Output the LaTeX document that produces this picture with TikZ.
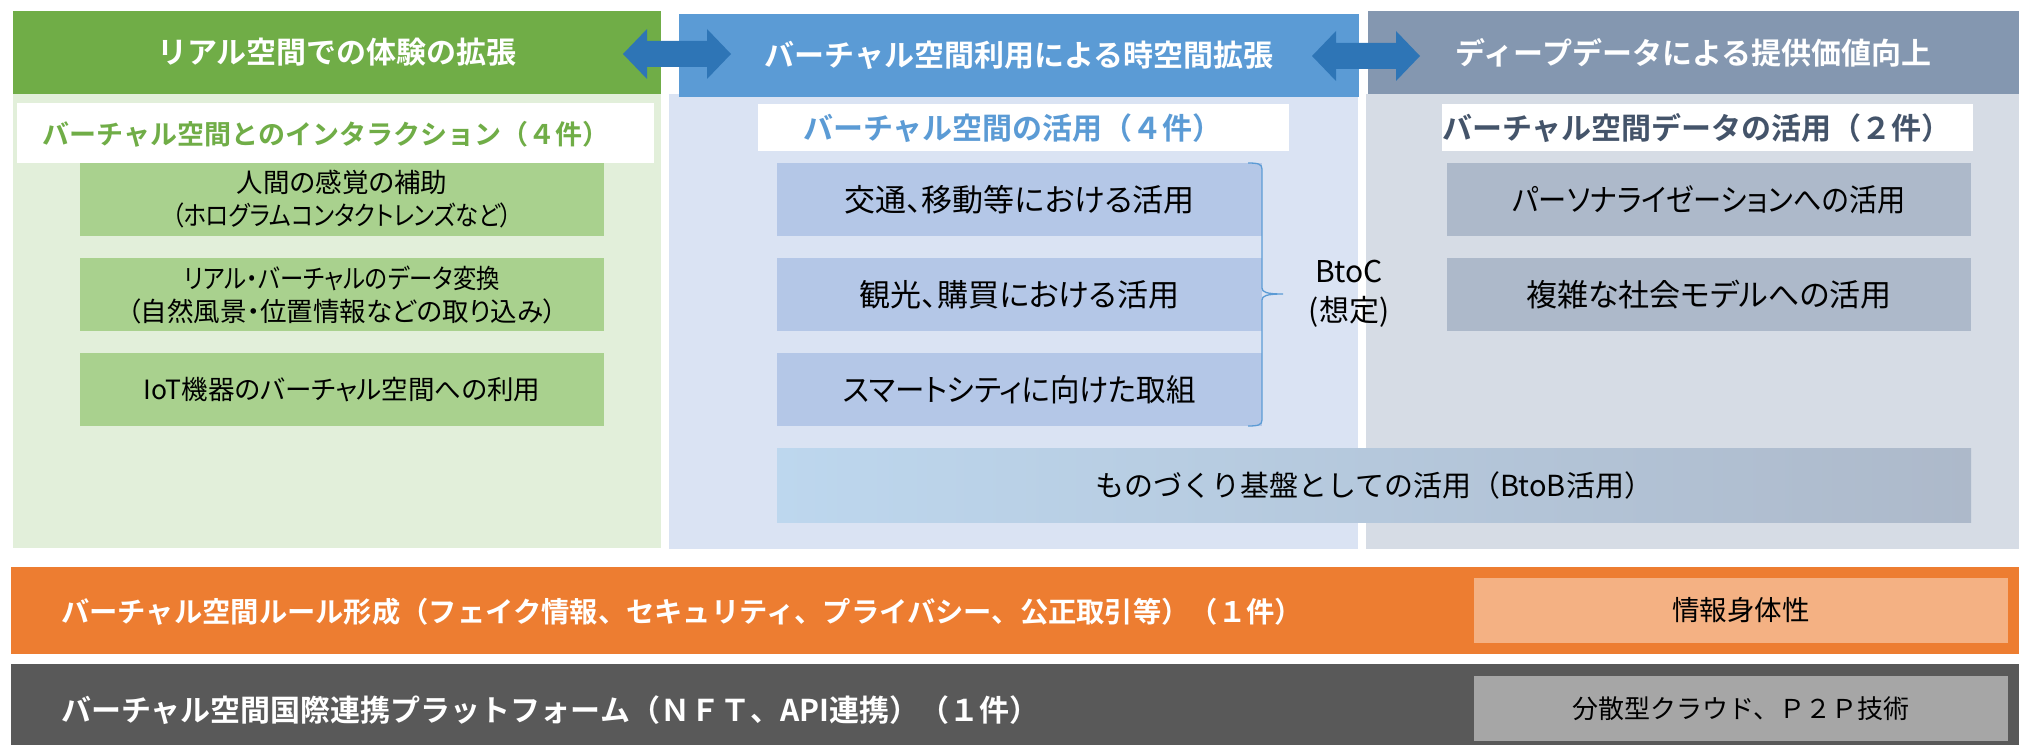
\documentclass[tikz,border=0pt]{standalone}
\usepackage{fontspec}
\setmainfont{Noto Sans CJK JP}[BoldFont={Noto Sans CJK JP Bold}]
\newfontfamily\pfont{Noto Sans CJK JP}[RawFeature=+palt]
\usetikzlibrary{calc}
\definecolor{gHead}{HTML}{70AD47}
\definecolor{gLight}{HTML}{E2EFDA}
\definecolor{gItem}{HTML}{A9D18E}
\definecolor{bHead}{HTML}{5B9BD5}
\definecolor{bLight}{HTML}{DAE3F3}
\definecolor{bItem}{HTML}{B4C7E7}
\definecolor{yHead}{HTML}{8497B0}
\definecolor{yLight}{HTML}{D6DCE5}
\definecolor{yItem}{HTML}{ADB9CA}
\definecolor{ySub}{HTML}{44546A}
\definecolor{arrowC}{HTML}{2E75B6}
\definecolor{orangeC}{HTML}{ED7D31}
\definecolor{oLight}{HTML}{F4B183}
\definecolor{darkC}{HTML}{595959}
\definecolor{dBox}{HTML}{A6A6A6}
\definecolor{wideL}{HTML}{BDD7EE}
\definecolor{wideR}{HTML}{ADB9CA}
\begin{document}
\begin{tikzpicture}[x=1bp,y=-1bp,
  blk/.style={draw=none,inner sep=0pt,outer sep=0pt,anchor=north west},
  sz/.style 2 args={minimum width=#1bp,minimum height=#2bp},
  hdr/.style={text=white,font=\fontsize{30bp}{36bp}\selectfont\bfseries},
  subt/.style={inner sep=0pt,anchor=center,font=\fontsize{30bp}{34bp}\selectfont\bfseries},
  gitm/.style={align=center,text=black,font=\pfont\fontsize{26.5bp}{33bp}\selectfont},
  bitm/.style={align=center,text=black,font=\pfont\fontsize{31bp}{36bp}\selectfont},
  band/.style={inner sep=0pt,anchor=west,text=white,font=\fontsize{28.3bp}{34bp}\selectfont\bfseries},
  rbox/.style={text=black,font=\fontsize{26bp}{32bp}\selectfont},
  dblarrow/.pic={\fill[arrowC] (-54,0) -- (-30,-25) -- (-30,-13) -- (30,-13) -- (30,-25) -- (54,0) -- (30,25) -- (30,13) -- (-30,13) -- (-30,25) -- cycle;},
  brace/.style={draw=bHead,line width=1.3bp}
]
\useasboundingbox (0,0) rectangle (2019,745);
\fill[white] (0,0) rectangle (2019,745);
% light panels
\node[blk,fill=gLight,sz={648}{454}] (gpanel) at (13,94) {};
\node[blk,fill=bLight,sz={689}{455}] (bpanel) at (669,94) {};
\node[blk,fill=yLight,sz={653}{455}] (ypanel) at (1366,94) {};
% headers
\node[blk,fill=gHead,sz={648}{83},hdr] (ghead) at (13,11) {リアル空間での体験の拡張};
\node[blk,fill=bHead,sz={680}{83},hdr] (bhead) at (679,14) {バーチャル空間利用による時空間拡張};
\node[blk,fill=yHead,sz={651}{83},hdr] (yhead) at (1368,11) {ディープデータによる提供価値向上};
% arrows between headers
\pic at (677,54) {dblarrow};
\pic at (1366,56) {dblarrow};
% subtitles
\node[blk,fill=white,sz={637}{60}] (gsub) at (17,103) {};
\node[subt,text=gHead,font=\fontsize{27bp}{32bp}\selectfont\bfseries] (gsubt) at (326,134) {バーチャル空間とのインタラクション（４件）};
\node[blk,fill=white,sz={531}{47}] (bsub) at (758,104) {};
\node[subt,text=bHead] (bsubt) at (1013,128) {バーチャル空間の活用（４件）};
\node[blk,fill=white,sz={531}{47}] (ysub) at (1442,104) {};
\node[subt,text=ySub] (ysubt) at (1697,128) {バーチャル空間データの活用（２件）};
% green items
\node[blk,fill=gItem,sz={524}{73},gitm] (g1) at (80,163) {人間の感覚の補助\\\scalebox{0.88}[1]{（ホログラムコンタクトレンズなど）}};
\node[blk,fill=gItem,sz={524}{73},gitm] (g2) at (80,258) {\scalebox{0.88}[1]{リアル・バーチャルのデータ変換}\\（自然風景・位置情報などの取り込み）};
\node[blk,fill=gItem,sz={524}{73},gitm] (g3) at (80,353) {IoT機器のバーチャル空間への利用};
% blue items
\node[blk,fill=bItem,sz={485}{73},bitm] (b1) at (777,163) {交通、移動等における活用};
\node[blk,fill=bItem,sz={485}{73},bitm] (b2) at (777,258) {観光、購買における活用};
\node[blk,fill=bItem,sz={485}{73},bitm] (b3) at (777,353) {\scalebox{0.95}[1]{スマートシティに向けた取組}};
% gray items
\node[blk,fill=yItem,sz={524}{73},bitm] (y1) at (1447,163) {\scalebox{0.91}[1]{パーソナライゼーションへの活用}};
\node[blk,fill=yItem,sz={524}{73},bitm] (y2) at (1447,258) {複雑な社会モデルへの活用};
% wide item
\node[blk,left color=wideL,right color=wideR,middle color=wideL!50!wideR,sz={1194}{74},bitm,font=\fontsize{29bp}{36bp}\selectfont] (wide) at (777,448) {ものづくり基盤としての活用（BtoB活用）};
% brace
\coordinate (bt) at (b1.north east);
\coordinate (bb) at (b3.south east);
\draw[brace] ($(bt)+(-14,0)$) .. controls ($(bt)+(-4,0)$) and ($(bt)+(0,1)$) .. ($(bt)+(0,6)$)
  -- (1262,288) .. controls (1262,292) and (1266,294) .. (1283,294)
  .. controls (1266,294) and (1262,296) .. (1262,300)
  -- ($(bb)+(0,-6)$) .. controls ($(bb)+(0,-1)$) and ($(bb)+(-4,0)$) .. ($(bb)+(-14,0)$);
\node[inner sep=0pt,align=center,text=black,font=\fontsize{30bp}{39bp}\selectfont] (btoc) at (1349,294) {BtoC\\(想定)};
% bands
\node[blk,fill=orangeC,sz={2008}{87}] (oband) at (11,567) {};
\node[band] (otext) at (61,612) {バーチャル空間ルール形成（フェイク情報、セキュリティ、プライバシー、公正取引等）（１件）};
\node[blk,fill=oLight,sz={534}{65},rbox,font=\fontsize{27.5bp}{32bp}\selectfont] (obox) at (1474,578) {情報身体性};
\node[blk,fill=darkC,sz={2008}{81}] (dband) at (11,664) {};
\node[band,font=\fontsize{30bp}{34bp}\selectfont\bfseries] (dtext) at (61,710) {バーチャル空間国際連携プラットフォーム（ＮＦＴ、API連携）（１件）};
\node[blk,fill=dBox,sz={534}{65},rbox] (dbox) at (1474,676) {分散型クラウド、Ｐ２Ｐ技術};
\end{tikzpicture}
\end{document}
